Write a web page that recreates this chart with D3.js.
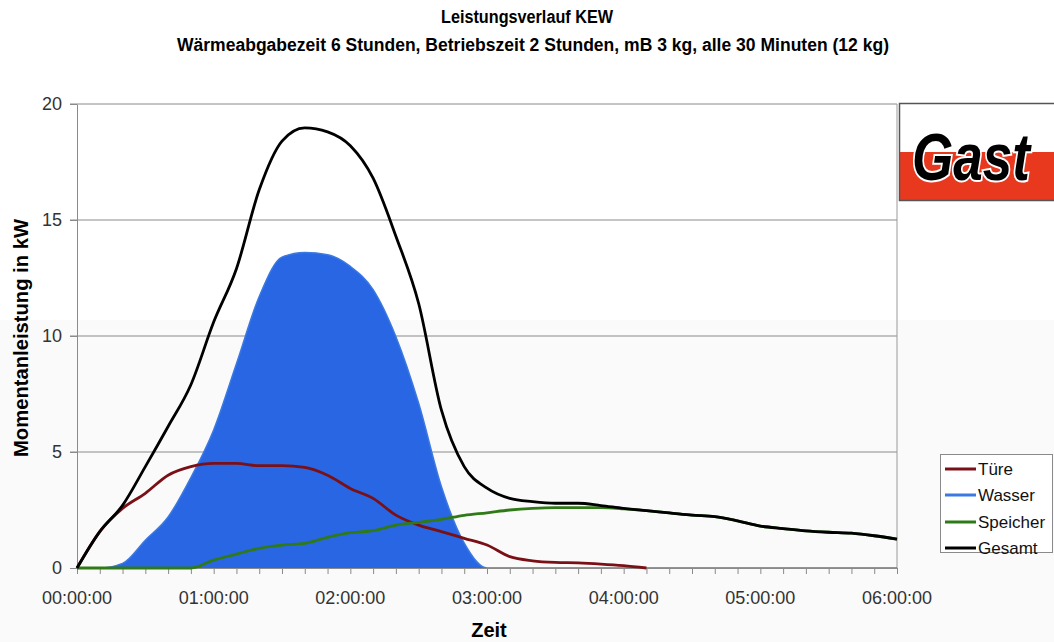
<!DOCTYPE html>
<html><head><meta charset="utf-8">
<script src="https://cdn.jsdelivr.net/npm/d3@7/dist/d3.min.js"></script>
<style>body{margin:0;background:#fff}svg{display:block}text{font-family:"Liberation Sans",Arial,sans-serif}</style>
</head><body>
<svg id="c" width="1054" height="642"></svg>
<script>
const minutes = [0,10,20,30,40,50,60,70,80,90,100,110,120,130,140,150,160,170,180,190,200,210,220,230,240,250,260,270,280,290,300,310,320,330,340,350,360];
const ture = [0,1.57,2.57,3.22,4.0,4.37,4.51,4.51,4.41,4.41,4.34,4.0,3.43,3.0,2.28,1.85,1.57,1.28,0.99,0.49,0.31,0.24,0.22,0.17,0.1,0,null,null,null,null,null,null,null,null,null,null,null];
const wasser = [0,0,0.2,1.2,2.2,3.9,5.95,8.8,11.7,13.4,13.6,13.5,13.0,12.0,9.97,7.1,3.5,1.07,0,0,0,0,0,0,0,0,0,0,0,0,0,0,0,0,0,0,0];
const speicher = [0,0,0,0,0,0,0.34,0.6,0.85,0.99,1.06,1.32,1.52,1.61,1.85,1.97,2.1,2.27,2.38,2.5,2.57,2.6,2.6,2.6,2.55,2.47,2.38,2.28,2.21,2.03,1.81,1.7,1.6,1.54,1.5,1.39,1.24];
const gesamt = [0,1.57,2.7,4.37,6.1,7.9,10.6,12.9,16.3,18.4,18.97,18.8,18.2,16.8,14.3,11.4,6.8,4.37,3.44,3.0,2.86,2.79,2.79,2.69,2.57,2.47,2.38,2.28,2.21,2.03,1.81,1.7,1.6,1.54,1.5,1.39,1.24];
const xTickMinutes = [0,60,120,180,240,300,360];
const xTickLabels = ["00:00:00","01:00:00","02:00:00","03:00:00","04:00:00","05:00:00","06:00:00"];
const yTicks = [0,5,10,15,20];
const seriesNames = ["Türe","Wasser","Speicher","Gesamt"];
const seriesColors = ["#7a1016","#3b78e0","#2f7a17","#000000"];

const svg = d3.select("#c");
const x = d3.scaleLinear().domain([0,360]).range([77,897]);
const y = d3.scaleLinear().domain([0,20]).range([568,104]);

// subtle lower background band
svg.append("rect").attr("x",0).attr("y",320).attr("width",1054).attr("height",322).attr("fill","#fafafa");

// grid lines
svg.append("g").selectAll("line").data(yTicks.filter(v=>v>0)).join("line")
  .attr("x1",70).attr("x2",897).attr("y1",d=>y(d)).attr("y2",d=>y(d))
  .attr("stroke","#8a8a8a").attr("stroke-width",1);
svg.append("line").attr("x1",897).attr("x2",897).attr("y1",104).attr("y2",568).attr("stroke","#9a9a9a");

// y axis
const ya = svg.append("g").attr("transform","translate(77,0)")
  .call(d3.axisLeft(y).tickValues(yTicks).tickSize(7).tickPadding(8).tickSizeOuter(0));
ya.selectAll("path,line").attr("stroke","#8a8a8a");
ya.selectAll("text").attr("font-size",18).attr("fill","#333").attr("font-family","Liberation Sans, Arial, sans-serif");

// series
const pts = arr => minutes.map((m,i)=>({m, v:arr[i]}));
const curve = d3.curveMonotoneX;
const area = d3.area().x(d=>x(d.m)).y0(y(0)).y1(d=>y(d.v)).curve(curve);
const line = d3.line().defined(d=>d.v!=null).x(d=>x(d.m)).y(d=>y(d.v)).curve(curve);

svg.append("path").datum(pts(wasser)).attr("d",area).attr("fill","#2966e3");
svg.append("path").datum(pts(wasser)).attr("d",line).attr("fill","none").attr("stroke","#3b78e0").attr("stroke-width",1.5);

// x axis
const xa = svg.append("g").attr("transform","translate(0,568)")
  .call(d3.axisBottom(x).tickValues(minutes).tickSize(6).tickFormat("").tickSizeOuter(0));
xa.selectAll("path,line").attr("stroke","#8a8a8a");
svg.append("g").selectAll("text").data(xTickMinutes).join("text")
  .attr("x",d=>x(d)).attr("y",604).attr("text-anchor","middle")
  .attr("font-size",18).attr("fill","#333").text((d,i)=>xTickLabels[i]);

svg.append("path").datum(pts(ture)).attr("d",line).attr("fill","none").attr("stroke",seriesColors[0]).attr("stroke-width",2.8);
svg.append("path").datum(pts(speicher)).attr("d",line).attr("fill","none").attr("stroke",seriesColors[2]).attr("stroke-width",2.8);
svg.append("path").datum(pts(gesamt)).attr("d",line).attr("fill","none").attr("stroke",seriesColors[3]).attr("stroke-width",2.8);

// titles
svg.append("text").attr("x",527).attr("y",23).attr("text-anchor","middle").attr("font-weight","bold")
  .attr("font-size",18).attr("textLength",172).attr("lengthAdjust","spacingAndGlyphs").text("Leistungsverlauf KEW");
svg.append("text").attr("x",533).attr("y",51).attr("text-anchor","middle").attr("font-weight","bold")
  .attr("font-size",18).attr("textLength",712).attr("lengthAdjust","spacingAndGlyphs")
  .text("Wärmeabgabezeit 6 Stunden, Betriebszeit 2 Stunden, mB 3 kg, alle 30 Minuten (12 kg)");
svg.append("text").attr("transform","translate(28,338) rotate(-90)").attr("text-anchor","middle")
  .attr("font-weight","bold").attr("font-size",20).attr("textLength",238).attr("lengthAdjust","spacingAndGlyphs")
  .text("Momentanleistung in kW");
svg.append("text").attr("x",489).attr("y",637).attr("text-anchor","middle").attr("font-weight","bold")
  .attr("font-size",20).text("Zeit");

// logo (box runs off the right edge like the reference)
const lg = svg.append("g");
lg.append("rect").attr("x",900).attr("y",104).attr("width",154).attr("height",96).attr("fill","#fff");
lg.append("rect").attr("x",900).attr("y",152).attr("width",154).attr("height",48).attr("fill","#e8391f");
lg.append("path").attr("d","M1054,103.5H899.5V200.5H1054").attr("fill","none").attr("stroke","#555").attr("stroke-width",1.5);
lg.append("text").attr("x",912).attr("y",180)
  .attr("font-family","Liberation Serif").attr("font-style","italic").attr("font-weight","bold")
  .attr("font-size",66).attr("textLength",118).attr("lengthAdjust","spacingAndGlyphs")
  .attr("fill","#000").attr("stroke","#fff").attr("stroke-width",4)
  .attr("paint-order","stroke").text("Gast");

// legend
const leg = svg.append("g");
leg.append("rect").attr("x",940.5).attr("y",454.5).attr("width",112).attr("height",98).attr("fill","#fff").attr("stroke","#8a8a8a");
const ly = [469,495,522,548];
seriesNames.forEach((n,i)=>{
  leg.append("line").attr("x1",945).attr("x2",976).attr("y1",ly[i]).attr("y2",ly[i]).attr("stroke",seriesColors[i]).attr("stroke-width",3);
  leg.append("text").attr("x",978).attr("y",ly[i]+6).attr("font-size",17).attr("fill","#111").text(n);
});
</script>
</body></html>
